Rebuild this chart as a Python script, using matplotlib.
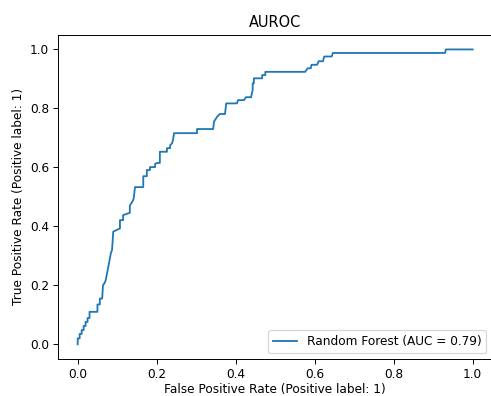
import matplotlib
matplotlib.use("Agg")
import matplotlib.pyplot as plt


OUTPUT_FILE = "out.png"
DPI = 87
WIDTH_PX, HEIGHT_PX = 491, 396

TITLE = "AUROC"
X_LABEL = "False Positive Rate (Positive label: 1)"
Y_LABEL = "True Positive Rate (Positive label: 1)"
LEGEND_LABEL = "Random Forest (AUC = 0.79)"

# ROC curve corners
fpr = [0.000, 0.000, 0.005, 0.005, 0.010, 0.010, 0.015, 0.015, 0.020, 0.020,
       0.025, 0.025, 0.030, 0.030, 0.050, 0.050, 0.056, 0.056, 0.062, 0.064,
       0.069, 0.071, 0.077, 0.084, 0.087, 0.090, 0.107, 0.107, 0.115, 0.115,
       0.132, 0.132, 0.140, 0.142, 0.145, 0.166, 0.166, 0.175, 0.175, 0.183,
       0.183, 0.196, 0.196, 0.201, 0.208, 0.208, 0.226, 0.226, 0.234, 0.234,
       0.239, 0.241, 0.244, 0.302, 0.302, 0.343, 0.345, 0.353, 0.360, 0.373,
       0.376, 0.403, 0.406, 0.421, 0.426, 0.439, 0.441, 0.443, 0.443, 0.446,
       0.446, 0.467, 0.467, 0.475, 0.475, 0.576, 0.582, 0.590, 0.592, 0.606,
       0.610, 0.621, 0.624, 0.643, 0.646, 0.930, 0.932, 1.000]
tpr = [0.000, 0.020, 0.020, 0.035, 0.035, 0.048, 0.048, 0.062, 0.062, 0.076,
       0.076, 0.089, 0.089, 0.110, 0.110, 0.135, 0.135, 0.155, 0.155, 0.200,
       0.210, 0.218, 0.259, 0.309, 0.320, 0.382, 0.393, 0.421, 0.421, 0.438,
       0.446, 0.470, 0.488, 0.496, 0.533, 0.533, 0.570, 0.570, 0.591, 0.591,
       0.601, 0.601, 0.612, 0.615, 0.615, 0.653, 0.653, 0.665, 0.665, 0.675,
       0.682, 0.692, 0.716, 0.716, 0.730, 0.730, 0.755, 0.772, 0.781, 0.781,
       0.817, 0.817, 0.828, 0.828, 0.838, 0.838, 0.852, 0.862, 0.885, 0.885,
       0.902, 0.902, 0.913, 0.913, 0.924, 0.924, 0.936, 0.936, 0.948, 0.948,
       0.960, 0.960, 0.976, 0.976, 0.988, 0.988, 1.000, 1.000]


fig = plt.figure(figsize=(WIDTH_PX / DPI, HEIGHT_PX / DPI), dpi=DPI)
ax = fig.add_axes([0.118, 0.0934, 0.885, 0.819])

ax.plot(fpr, tpr, color="#1f77b4", linewidth=1.5, label=LEGEND_LABEL)

ax.set_xlim(-0.05, 1.05)
ax.set_ylim(-0.05, 1.05)
ax.set_xticks([0.0, 0.2, 0.4, 0.6, 0.8, 1.0])
ax.set_yticks([0.0, 0.2, 0.4, 0.6, 0.8, 1.0])
ax.tick_params(length=4)

ax.set_title(TITLE)
ax.set_xlabel(X_LABEL, labelpad=1.5)
ax.set_ylabel(Y_LABEL)
ax.legend(loc="lower right")

fig.savefig(OUTPUT_FILE, dpi=DPI)
